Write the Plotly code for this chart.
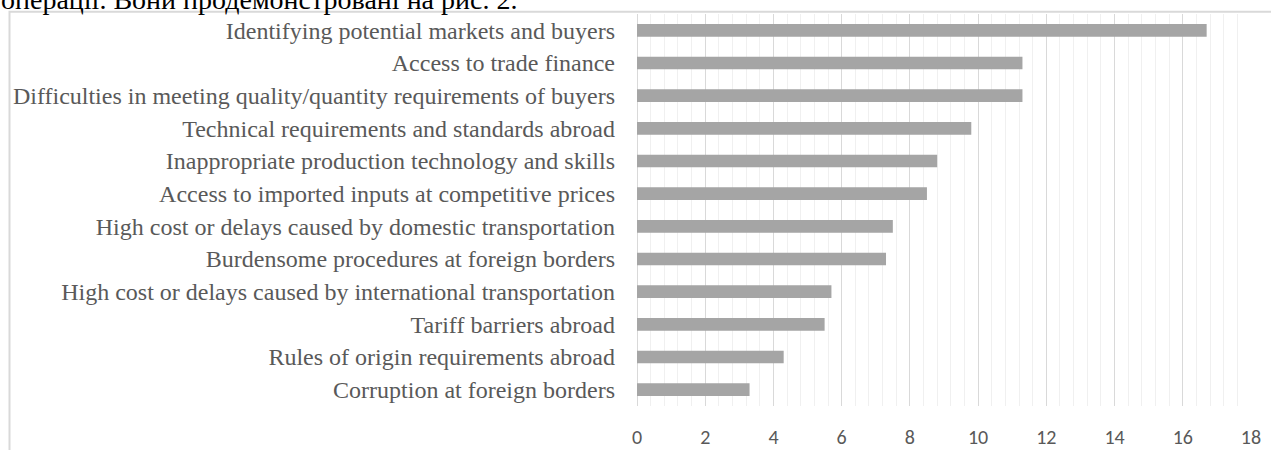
import plotly.graph_objects as go

# ---- data ----
categories = [
    "Identifying potential markets and buyers",
    "Access to trade finance",
    "Difficulties in meeting quality/quantity requirements of buyers",
    "Technical requirements and standards abroad",
    "Inappropriate production technology and skills",
    "Access to imported inputs at competitive prices",
    "High cost or delays caused by domestic transportation",
    "Burdensome procedures at foreign borders",
    "High cost or delays caused by international transportation",
    "Tariff barriers abroad",
    "Rules of origin requirements abroad",
    "Corruption at foreign borders",
]
values = [16.7, 11.3, 11.3, 9.8, 8.8, 8.5, 7.5, 7.3, 5.7, 5.5, 4.3, 3.3]
x_ticks = [0, 2, 4, 6, 8, 10, 12, 14, 16, 18]
intro_text = "операції. Вони продемонстровані на рис. 2."

# ---- layout geometry ----
W, H = 1271, 450
ML, MR, MT, MB = 637, 20, 14, 44
PW, PH = W - ML - MR, H - MT - MB


def px_x(p):
    return (p - ML) / PW


def px_y(p):
    return (H - MB - p) / PH


fig = go.Figure(
    go.Bar(
        y=categories,
        x=values,
        orientation="h",
        width=0.39,
        marker=dict(color="#a5a5a5", line=dict(width=0)),
        hoverinfo="x+y",
    )
)

fig.update_layout(
    template="none",
    width=W,
    height=H,
    margin=dict(l=ML, r=MR, t=MT, b=MB, pad=0),
    paper_bgcolor="white",
    plot_bgcolor="white",
    showlegend=False,
    xaxis=dict(
        range=[0, 18],
        tickvals=x_ticks,
        ticktext=[str(v) for v in x_ticks],
        showgrid=True,
        gridcolor="#d9d9d9",
        gridwidth=1,
        zeroline=True,
        zerolinecolor="#d9d9d9",
        zerolinewidth=1,
        showline=False,
        ticks="",
        automargin=False,
        ticklabelstandoff=17,
        tickfont=dict(family="Carlito, Calibri, Lato, sans-serif", size=20, color="#595959"),
        minor=dict(dtick=0.4, tick0=0, showgrid=True, gridcolor="#f0f0f0", gridwidth=1, ticks=""),
        fixedrange=True,
    ),
    yaxis=dict(
        categoryorder="array",
        categoryarray=categories,
        autorange="reversed",
        showgrid=False,
        zeroline=False,
        showline=False,
        ticks="",
        automargin=False,
        ticklabelstandoff=21,
        tickfont=dict(family="Liberation Serif, Times New Roman, serif", size=24, color="#595959"),
        fixedrange=True,
    ),
    shapes=[
        dict(
            type="rect",
            xref="paper",
            yref="paper",
            x0=px_x(9.5),
            x1=px_x(W + 50),
            y0=px_y(H + 50),
            y1=px_y(11.7),
            line=dict(color="#d9d9d9", width=2),
            fillcolor="rgba(0,0,0,0)",
            layer="below",
        )
    ],
    annotations=[
        dict(
            text=intro_text,
            xref="paper",
            yref="paper",
            x=px_x(0),
            y=px_y(-0.5),
            xanchor="left",
            yanchor="middle",
            showarrow=False,
            borderpad=0,
            font=dict(family="Liberation Serif, Times New Roman, serif", size=28, color="black"),
        )
    ],
)

fig.write_html("out.html")
